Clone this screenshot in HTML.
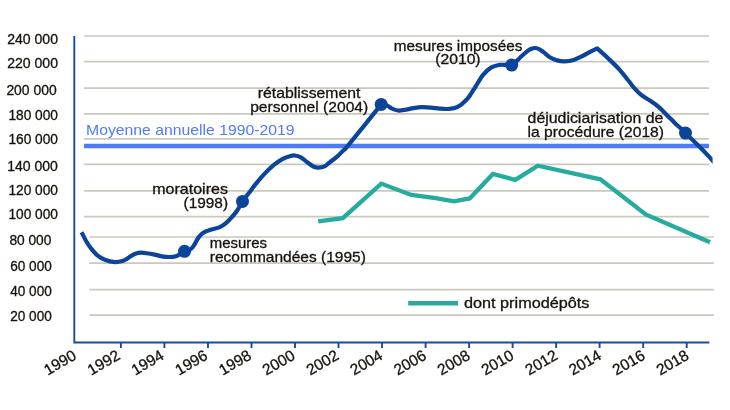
<!DOCTYPE html>
<html lang="fr"><head><meta charset="utf-8"><title>Graphique</title>
<style>html,body{margin:0;padding:0;background:#fff}svg{display:block}text{font-family:"Liberation Sans", Arial, sans-serif;}.a{stroke-width:.3px;paint-order:stroke}</style></head><body>
<svg width="730" height="410" viewBox="0 0 730 410">
<rect width="730" height="410" fill="#fff"/>
<line x1="84" x2="709" y1="36.0" y2="36.0" stroke="#c9c9bf" stroke-width="1.7"/>
<line x1="84" x2="709" y1="61.6" y2="61.6" stroke="#c9c9bf" stroke-width="1.7"/>
<line x1="84" x2="709" y1="88.2" y2="88.2" stroke="#c9c9bf" stroke-width="1.7"/>
<line x1="84" x2="709" y1="113.9" y2="113.9" stroke="#c9c9bf" stroke-width="1.7"/>
<line x1="84" x2="709" y1="138.9" y2="138.9" stroke="#c9c9bf" stroke-width="1.7"/>
<line x1="84" x2="709" y1="164.3" y2="164.3" stroke="#c9c9bf" stroke-width="1.7"/>
<line x1="84" x2="709" y1="190.9" y2="190.9" stroke="#c9c9bf" stroke-width="1.7"/>
<line x1="84" x2="709" y1="216.6" y2="216.6" stroke="#c9c9bf" stroke-width="1.7"/>
<line x1="89.4" x2="714" y1="237.0" y2="237.0" stroke="#c9c9bf" stroke-width="1.7"/>
<line x1="89.4" x2="714" y1="263.1" y2="263.1" stroke="#c9c9bf" stroke-width="1.7"/>
<line x1="89.4" x2="714" y1="289.7" y2="289.7" stroke="#c9c9bf" stroke-width="1.7"/>
<line x1="89.4" x2="714" y1="315.2" y2="315.2" stroke="#c9c9bf" stroke-width="1.7"/>
<line x1="84" x2="709" y1="146" y2="146" stroke="#4f7bf7" stroke-width="4.3"/>
<path d="M74.3 35.9V342.5H709.3" fill="none" stroke="#164ca3" stroke-width="1.9"/>
<line x1="120.9" x2="120.9" y1="342.5" y2="348.0" stroke="#164ca3" stroke-width="1.9"/>
<line x1="164.4" x2="164.4" y1="342.5" y2="348.0" stroke="#164ca3" stroke-width="1.9"/>
<line x1="208.0" x2="208.0" y1="342.5" y2="348.0" stroke="#164ca3" stroke-width="1.9"/>
<line x1="251.5" x2="251.5" y1="342.5" y2="348.0" stroke="#164ca3" stroke-width="1.9"/>
<line x1="295.0" x2="295.0" y1="342.5" y2="348.0" stroke="#164ca3" stroke-width="1.9"/>
<line x1="338.5" x2="338.5" y1="342.5" y2="348.0" stroke="#164ca3" stroke-width="1.9"/>
<line x1="382.0" x2="382.0" y1="342.5" y2="348.0" stroke="#164ca3" stroke-width="1.9"/>
<line x1="425.6" x2="425.6" y1="342.5" y2="348.0" stroke="#164ca3" stroke-width="1.9"/>
<line x1="469.1" x2="469.1" y1="342.5" y2="348.0" stroke="#164ca3" stroke-width="1.9"/>
<line x1="512.6" x2="512.6" y1="342.5" y2="348.0" stroke="#164ca3" stroke-width="1.9"/>
<line x1="556.1" x2="556.1" y1="342.5" y2="348.0" stroke="#164ca3" stroke-width="1.9"/>
<line x1="599.6" x2="599.6" y1="342.5" y2="348.0" stroke="#164ca3" stroke-width="1.9"/>
<line x1="643.2" x2="643.2" y1="342.5" y2="348.0" stroke="#164ca3" stroke-width="1.9"/>
<line x1="686.7" x2="686.7" y1="342.5" y2="348.0" stroke="#164ca3" stroke-width="1.9"/>
<text class="a" transform="translate(77.5 358.4) rotate(-30)" font-size="15.5" text-anchor="end" fill="#17110b" stroke="#17110b">1990</text>
<text class="a" transform="translate(121.2 358.4) rotate(-30)" font-size="15.5" text-anchor="end" fill="#17110b" stroke="#17110b">1992</text>
<text class="a" transform="translate(165.0 358.4) rotate(-30)" font-size="15.5" text-anchor="end" fill="#17110b" stroke="#17110b">1994</text>
<text class="a" transform="translate(208.8 358.4) rotate(-30)" font-size="15.5" text-anchor="end" fill="#17110b" stroke="#17110b">1996</text>
<text class="a" transform="translate(252.5 358.4) rotate(-30)" font-size="15.5" text-anchor="end" fill="#17110b" stroke="#17110b">1998</text>
<text class="a" transform="translate(296.2 358.4) rotate(-30)" font-size="15.5" text-anchor="end" fill="#17110b" stroke="#17110b">2000</text>
<text class="a" transform="translate(340.0 358.4) rotate(-30)" font-size="15.5" text-anchor="end" fill="#17110b" stroke="#17110b">2002</text>
<text class="a" transform="translate(383.8 358.4) rotate(-30)" font-size="15.5" text-anchor="end" fill="#17110b" stroke="#17110b">2004</text>
<text class="a" transform="translate(427.5 358.4) rotate(-30)" font-size="15.5" text-anchor="end" fill="#17110b" stroke="#17110b">2006</text>
<text class="a" transform="translate(471.2 358.4) rotate(-30)" font-size="15.5" text-anchor="end" fill="#17110b" stroke="#17110b">2008</text>
<text class="a" transform="translate(515.0 358.4) rotate(-30)" font-size="15.5" text-anchor="end" fill="#17110b" stroke="#17110b">2010</text>
<text class="a" transform="translate(558.8 358.4) rotate(-30)" font-size="15.5" text-anchor="end" fill="#17110b" stroke="#17110b">2012</text>
<text class="a" transform="translate(602.5 358.4) rotate(-30)" font-size="15.5" text-anchor="end" fill="#17110b" stroke="#17110b">2014</text>
<text class="a" transform="translate(646.2 358.4) rotate(-30)" font-size="15.5" text-anchor="end" fill="#17110b" stroke="#17110b">2016</text>
<text class="a" transform="translate(690.0 358.4) rotate(-30)" font-size="15.5" text-anchor="end" fill="#17110b" stroke="#17110b">2018</text>
<path d="M318.2 221.4 L342.8 218.1 L381.3 183.6 L411.3 194.9 L435.7 198.1 L453.9 201.4 L469.7 198.4 L492.9 174.0 L515.3 179.9 L537.8 165.7 L600.4 179.3 L645.7 214.5 L710.0 242.2" fill="none" stroke="#26ab9e" stroke-width="4.3" stroke-linejoin="miter"/>
<clipPath id="c"><rect x="70" y="20" width="642.6" height="330"/></clipPath>
<path clip-path="url(#c)" d="M81.60 232.30 C82.37 233.78 84.60 238.48 86.20 241.20 C87.80 243.92 89.33 246.25 91.20 248.60 C93.07 250.95 95.12 253.43 97.40 255.30 C99.68 257.17 102.00 258.67 104.90 259.80 C107.80 260.93 111.90 261.88 114.80 262.10 C117.70 262.32 120.23 261.68 122.30 261.10 C124.37 260.52 125.65 259.52 127.20 258.60 C128.75 257.68 130.13 256.45 131.60 255.60 C133.07 254.75 134.45 253.98 136.00 253.50 C137.55 253.02 138.83 252.70 140.90 252.70 C142.97 252.70 145.92 253.13 148.40 253.50 C150.88 253.87 152.85 254.33 155.80 254.90 C158.75 255.47 162.72 256.68 166.10 256.90 C169.48 257.12 173.03 257.12 176.10 256.20 C179.17 255.28 182.10 252.55 184.50 251.40 C186.90 250.25 188.88 250.37 190.50 249.30 C192.12 248.23 193.08 246.63 194.20 245.00 C195.32 243.37 196.13 241.17 197.20 239.50 C198.27 237.83 199.33 236.28 200.60 235.00 C201.87 233.72 202.98 232.70 204.80 231.80 C206.62 230.90 209.00 230.38 211.50 229.60 C214.00 228.82 217.38 228.17 219.80 227.10 C222.22 226.03 223.93 224.93 226.00 223.20 C228.07 221.47 230.33 218.82 232.20 216.70 C234.07 214.58 235.48 213.07 237.20 210.50 C238.92 207.93 240.58 204.17 242.50 201.30 C244.42 198.43 246.42 196.28 248.70 193.30 C250.98 190.32 253.50 186.72 256.20 183.40 C258.90 180.08 262.00 176.43 264.90 173.40 C267.80 170.37 270.70 167.58 273.60 165.20 C276.50 162.82 279.60 160.60 282.30 159.10 C285.00 157.60 287.73 156.80 289.80 156.20 C291.87 155.60 292.85 155.32 294.70 155.50 C296.55 155.68 298.82 156.18 300.90 157.30 C302.98 158.42 305.12 160.67 307.20 162.20 C309.28 163.73 311.53 165.58 313.40 166.50 C315.27 167.42 316.53 167.72 318.40 167.70 C320.27 167.68 322.83 167.20 324.60 166.40 C326.37 165.60 326.87 164.58 329.00 162.90 C331.13 161.22 334.97 158.43 337.40 156.30 C339.83 154.17 341.70 152.05 343.60 150.10 C345.50 148.15 342.53 152.22 348.80 144.60 C355.07 136.98 375.80 111.10 381.20 104.40 C382.23 104.60 385.73 104.97 387.40 105.60 C389.07 106.23 389.43 107.38 391.20 108.20 C392.97 109.02 395.52 110.27 398.00 110.50 C400.48 110.73 403.52 110.00 406.10 109.60 C408.68 109.20 410.82 108.50 413.50 108.10 C416.18 107.70 419.28 107.28 422.20 107.20 C425.12 107.12 428.10 107.37 431.00 107.60 C433.90 107.83 436.92 108.37 439.60 108.60 C442.28 108.83 444.60 109.10 447.10 109.00 C449.60 108.90 452.32 108.68 454.60 108.00 C456.88 107.32 459.07 106.03 460.80 104.90 C462.53 103.77 463.63 102.55 465.00 101.20 C466.37 99.85 467.22 99.27 469.00 96.80 C470.78 94.33 473.35 90.07 475.70 86.40 C478.05 82.73 480.48 77.97 483.10 74.80 C485.72 71.63 488.63 69.05 491.40 67.40 C494.17 65.75 497.43 65.32 499.70 64.90 C501.97 64.48 503.00 64.87 505.00 64.90 C507.00 64.93 509.00 66.50 511.70 65.10 C514.40 63.70 518.58 58.83 521.20 56.50 C523.82 54.17 525.68 52.40 527.40 51.10 C529.12 49.80 530.15 49.22 531.50 48.70 C532.85 48.18 534.17 47.90 535.50 48.00 C536.83 48.10 538.15 48.60 539.50 49.30 C540.85 50.00 541.88 50.88 543.60 52.20 C545.32 53.52 547.52 55.83 549.80 57.20 C552.08 58.57 554.80 59.72 557.30 60.40 C559.80 61.08 562.10 61.38 564.80 61.30 C567.50 61.22 570.60 60.75 573.50 59.90 C576.40 59.05 579.52 57.50 582.20 56.20 C584.88 54.90 587.10 53.40 589.60 52.10 C592.10 50.80 595.93 49.02 597.20 48.40 C599.00 50.03 604.25 54.63 608.00 58.20 C611.75 61.77 616.28 66.03 619.70 69.80 C623.12 73.57 625.95 77.62 628.50 80.80 C631.05 83.98 632.88 86.55 635.00 88.90 C637.12 91.25 638.72 92.95 641.20 94.90 C643.68 96.85 647.00 98.60 649.90 100.60 C652.80 102.60 655.70 104.43 658.60 106.90 C661.50 109.37 664.60 112.73 667.30 115.40 C670.00 118.07 672.52 120.70 674.80 122.90 C677.08 125.10 679.22 126.90 681.00 128.60 C682.78 130.30 682.40 130.07 685.50 133.10 C688.60 136.13 695.12 142.27 699.60 146.80 C704.08 151.33 709.33 157.05 712.40 160.30 C715.47 163.55 717.07 165.30 718.00 166.30" fill="none" stroke="#0c4499" stroke-width="4.2" stroke-linejoin="round"/>
<circle cx="184.5" cy="251.3" r="6.5" fill="#0c4499"/>
<circle cx="242.5" cy="201.4" r="6.5" fill="#0c4499"/>
<circle cx="381.2" cy="104.4" r="6.5" fill="#0c4499"/>
<circle cx="511.7" cy="65.1" r="6.5" fill="#0c4499"/>
<circle cx="685.5" cy="133.1" r="6.5" fill="#0c4499"/>
<line x1="408.2" x2="458" y1="303.3" y2="303.3" stroke="#26ab9e" stroke-width="4.4"/>
<text class="a" stroke="#17110b" x="464.00" y="308.0" font-size="14.8" fill="#17110b" textLength="125.40" lengthAdjust="spacingAndGlyphs">dont primodépôts</text>
<text x="86.00" y="134.6" font-size="14.8" fill="#4f7bf7" textLength="208.61" lengthAdjust="spacingAndGlyphs">Moyenne annuelle 1990-2019</text>
<text class="a" stroke="#17110b" x="257.80" y="98.2" font-size="14.8" fill="#17110b" textLength="102.60" lengthAdjust="spacingAndGlyphs">rétablissement</text>
<text class="a" stroke="#17110b" x="250.20" y="112.0" font-size="14.8" fill="#17110b" textLength="118.01" lengthAdjust="spacingAndGlyphs">personnel (2004)</text>
<text class="a" stroke="#17110b" x="152.20" y="194.1" font-size="14.8" fill="#17110b" textLength="75.80" lengthAdjust="spacingAndGlyphs">moratoires</text>
<text class="a" stroke="#17110b" x="183.60" y="207.5" font-size="14.8" fill="#17110b" textLength="44.42" lengthAdjust="spacingAndGlyphs">(1998)</text>
<text class="a" stroke="#17110b" x="209.80" y="247.9" font-size="14.8" fill="#17110b" textLength="57.21" lengthAdjust="spacingAndGlyphs">mesures</text>
<text class="a" stroke="#17110b" x="209.80" y="261.7" font-size="14.8" fill="#17110b" textLength="156.01" lengthAdjust="spacingAndGlyphs">recommandées (1995)</text>
<text class="a" stroke="#17110b" x="393.80" y="51.3" font-size="14.8" fill="#17110b" textLength="128.60" lengthAdjust="spacingAndGlyphs">mesures imposées</text>
<text class="a" stroke="#17110b" x="435.20" y="64.0" font-size="14.8" fill="#17110b" textLength="45.43" lengthAdjust="spacingAndGlyphs">(2010)</text>
<text class="a" stroke="#17110b" x="527.60" y="122.9" font-size="14.8" fill="#17110b" textLength="135.80" lengthAdjust="spacingAndGlyphs">déjudiciarisation de</text>
<text class="a" stroke="#17110b" x="527.60" y="136.8" font-size="14.8" fill="#17110b" textLength="136.41" lengthAdjust="spacingAndGlyphs">la procédure (2018)</text>
<text class="a" stroke="#17110b" x="7.20" y="44.2" font-size="13.8" fill="#17110b" textLength="50.82" lengthAdjust="spacingAndGlyphs">240 000</text>
<text class="a" stroke="#17110b" x="7.20" y="68.2" font-size="13.8" fill="#17110b" textLength="50.82" lengthAdjust="spacingAndGlyphs">220 000</text>
<text class="a" stroke="#17110b" x="6.40" y="94.7" font-size="13.8" fill="#17110b" textLength="50.23" lengthAdjust="spacingAndGlyphs">200 000</text>
<text class="a" stroke="#17110b" x="8.40" y="120.1" font-size="13.8" fill="#17110b" textLength="49.61" lengthAdjust="spacingAndGlyphs">180 000</text>
<text class="a" stroke="#17110b" x="8.40" y="143.6" font-size="13.8" fill="#17110b" textLength="49.61" lengthAdjust="spacingAndGlyphs">160 000</text>
<text class="a" stroke="#17110b" x="7.20" y="170.5" font-size="13.8" fill="#17110b" textLength="50.62" lengthAdjust="spacingAndGlyphs">140 000</text>
<text class="a" stroke="#17110b" x="8.40" y="195.0" font-size="13.8" fill="#17110b" textLength="49.61" lengthAdjust="spacingAndGlyphs">120 000</text>
<text class="a" stroke="#17110b" x="8.40" y="218.9" font-size="13.8" fill="#17110b" textLength="49.61" lengthAdjust="spacingAndGlyphs">100 000</text>
<text class="a" stroke="#17110b" x="9.40" y="245.4" font-size="13.8" fill="#17110b" textLength="42.01" lengthAdjust="spacingAndGlyphs">80 000</text>
<text class="a" stroke="#17110b" x="10.20" y="271.1" font-size="13.8" fill="#17110b" textLength="41.61" lengthAdjust="spacingAndGlyphs">60 000</text>
<text class="a" stroke="#17110b" x="10.20" y="295.9" font-size="13.8" fill="#17110b" textLength="41.60" lengthAdjust="spacingAndGlyphs">40 000</text>
<text class="a" stroke="#17110b" x="10.20" y="321.1" font-size="13.8" fill="#17110b" textLength="41.62" lengthAdjust="spacingAndGlyphs">20 000</text>
</svg></body></html>
